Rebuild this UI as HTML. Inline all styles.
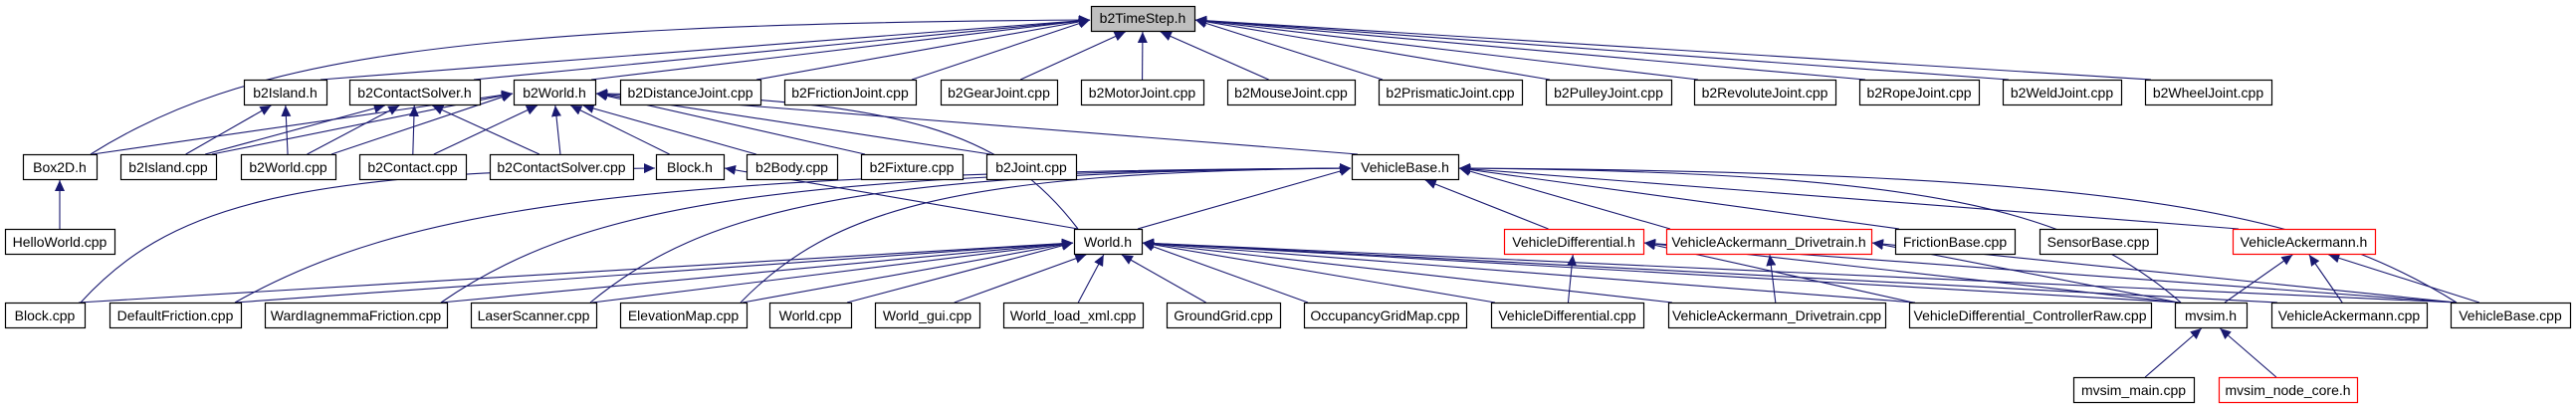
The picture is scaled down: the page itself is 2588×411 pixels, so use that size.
<!DOCTYPE html>
<html><head><meta charset="utf-8"><style>
html,body{margin:0;padding:0;background:#fff;}
svg{display:block;}
text{font-family:"Liberation Sans",sans-serif;font-size:14px;fill:#000;}
</style></head><body>
<svg id="g" xmlns="http://www.w3.org/2000/svg" width="2588" height="411" viewBox="0 0 2588 411">
<defs><marker id="a" markerUnits="userSpaceOnUse" markerWidth="12" markerHeight="10" refX="11" refY="5" orient="auto"><path d="M0,0 L11,5 L0,10 z" fill="#191970"/></marker></defs>
<g id="edges" fill="none" stroke="#191970" stroke-width="1.1"></g>
<g id="boxes"></g>
<g id="labels" text-anchor="middle">
<text x="1148" y="23">b2TimeStep.h</text>
<text x="286.5" y="98">b2Island.h</text>
<text x="416.5" y="98">b2ContactSolver.h</text>
<text x="557" y="98">b2World.h</text>
<text x="693.5" y="98">b2DistanceJoint.cpp</text>
<text x="854" y="98">b2FrictionJoint.cpp</text>
<text x="1003.5" y="98">b2GearJoint.cpp</text>
<text x="1147.5" y="98">b2MotorJoint.cpp</text>
<text x="1297" y="98">b2MouseJoint.cpp</text>
<text x="1457" y="98">b2PrismaticJoint.cpp</text>
<text x="1616" y="98">b2PulleyJoint.cpp</text>
<text x="1773" y="98">b2RevoluteJoint.cpp</text>
<text x="1928" y="98">b2RopeJoint.cpp</text>
<text x="2071.5" y="98">b2WeldJoint.cpp</text>
<text x="2218.5" y="98">b2WheelJoint.cpp</text>
<text x="60" y="173">Box2D.h</text>
<text x="169" y="173">b2Island.cpp</text>
<text x="289.5" y="173">b2World.cpp</text>
<text x="414.5" y="173">b2Contact.cpp</text>
<text x="564" y="173">b2ContactSolver.cpp</text>
<text x="693" y="173">Block.h</text>
<text x="795.5" y="173">b2Body.cpp</text>
<text x="916" y="173">b2Fixture.cpp</text>
<text x="1036" y="173">b2Joint.cpp</text>
<text x="1411.5" y="173">VehicleBase.h</text>
<text x="60" y="248">HelloWorld.cpp</text>
<text x="1113" y="248">World.h</text>
<text x="1581" y="248">VehicleDifferential.h</text>
<text x="1777" y="248">VehicleAckermann_Drivetrain.h</text>
<text x="1964" y="248">FrictionBase.cpp</text>
<text x="2108" y="248">SensorBase.cpp</text>
<text x="2314.5" y="248">VehicleAckermann.h</text>
<text x="45" y="322">Block.cpp</text>
<text x="176" y="322">DefaultFriction.cpp</text>
<text x="357.5" y="322">WardIagnemmaFriction.cpp</text>
<text x="536" y="322">LaserScanner.cpp</text>
<text x="686.5" y="322">ElevationMap.cpp</text>
<text x="814" y="322">World.cpp</text>
<text x="931.5" y="322">World_gui.cpp</text>
<text x="1078" y="322">World_load_xml.cpp</text>
<text x="1229" y="322">GroundGrid.cpp</text>
<text x="1391.5" y="322">OccupancyGridMap.cpp</text>
<text x="1574.5" y="322">VehicleDifferential.cpp</text>
<text x="1785" y="322">VehicleAckermann_Drivetrain.cpp</text>
<text x="2039.5" y="322">VehicleDifferential_ControllerRaw.cpp</text>
<text x="2221" y="322">mvsim.h</text>
<text x="2360" y="322">VehicleAckermann.cpp</text>
<text x="2522" y="322">VehicleBase.cpp</text>
<text x="2143.5" y="397">mvsim_main.cpp</text>
<text x="2298.5" y="397">mvsim_node_core.h</text>
</g>
</svg>
<script>
var RY=[0,6,80,155,230,304,379];
var N={
"TS":[1096,1200,1,"g"],"IH":[245,328,2],"CSH":[351,482,2],"WH":[516,598,2],
"DJ":[623,764,2],"FJ":[788,920,2],"GJ":[945,1062,2],"MJ":[1086,1209,2],"MOJ":[1233,1361,2],
"PJ":[1385,1529,2],"PUJ":[1553,1679,2],"RJ":[1702,1844,2],"ROJ":[1868,1988,2],"WJ":[2012,2131,2],"WHJ":[2155,2282,2],
"B2D":[23,97,3],"IC":[121,217,3],"WC":[242,337,3],"CC":[361,468,3],"CSC":[492,636,3],"BH":[659,727,3],
"BC":[750,841,3],"FC":[865,967,3],"JC":[991,1081,3],"VBH":[1358,1465,3],
"HW":[5,115,4],"WoH":[1079,1147,4],"VDH":[1511,1651,4,"r"],"VADH":[1674,1880,4,"r"],"FBC":[1904,2024,4],"SBC":[2049,2167,4],"VAH":[2243,2386,4,"r"],
"BlC":[5,85,5],"DF":[110,242,5],"WIF":[266,449,5],"LS":[473,599,5],"EM":[623,750,5],"WoC":[773,855,5],"WG":[879,984,5],"WLX":[1008,1148,5],
"GG":[1172,1286,5],"OGM":[1310,1473,5],"VDC":[1498,1651,5],"VADC":[1676,1894,5],"VDCR":[1918,2161,5],"MV":[2185,2257,5],"VAC":[2282,2438,5],"VBC":[2462,2582,5],
"MM":[2083,2204,6],"MNC":[2229,2368,6,"r"]};
var E=[
["B2D","TS"],["IH","TS"],["CSH","TS"],["WH","TS"],["DJ","TS"],["FJ","TS"],["GJ","TS"],["MJ","TS"],["MOJ","TS"],["PJ","TS"],["PUJ","TS"],["RJ","TS"],["ROJ","TS"],["WJ","TS"],["WHJ","TS"],
["IC","IH"],["WC","IH"],["IC","CSH"],["WC","CSH"],["CC","CSH"],["CSC","CSH"],
["B2D","WH"],["IC","WH"],["WC","WH"],["CC","WH"],["CSC","WH"],["BH","WH"],["BC","WH"],["FC","WH"],["JC","WH"],["WoH","WH"],["VBH","WH"],
["HW","B2D"],["BlC","BH"],["WoH","BH"],
["WoH","VBH"],["DF","VBH"],["WIF","VBH"],["LS","VBH"],["EM","VBH"],["VDH","VBH"],["VADH","VBH"],["FBC","VBH"],["VAH","VBH"],["VBC","VBH"],["MV","VBH"],
["BlC","WoH"],["DF","WoH"],["WIF","WoH"],["LS","WoH"],["EM","WoH"],["WoC","WoH"],["WG","WoH"],["WLX","WoH"],["GG","WoH"],["OGM","WoH"],["VDC","WoH"],["VADC","WoH"],["VDCR","WoH"],["MV","WoH"],["VAC","WoH"],["VBC","WoH"],
["VDC","VDH"],["MV","VDH"],["VBC","VDH"],["VDCR","VDH"],
["VADC","VADH"],["MV","VADH"],["VBC","VADH"],
["MV","VAH"],["VAC","VAH"],["VBC","VAH"],
["MM","MV"],["MNC","MV"]];
var ns="http://www.w3.org/2000/svg";
function cl(v,a,b){return Math.max(a,Math.min(b,v));}
var eg=document.getElementById("edges"),bg=document.getElementById("boxes");
E.forEach(function(e){
 var C=N[e[0]],P=N[e[1]];
 var ccx=(C[0]+C[1])/2,pcx=(P[0]+P[1])/2,cw=C[1]-C[0],pw=P[1]-P[0];
 var cy=RY[C[2]],py=RY[P[2]]+25;
 var dx=pcx-ccx,dy=cy-py;
 var sx=ccx+cl(dx*0.15,-cw/2+4,cw/2-4),sy=cy;
 var tx,ty;
 if(Math.abs(dx)>3.2*Math.max(dy,25)+pw){
   if(dx>0){tx=P[0]-1;}else{tx=P[1]+1;}
   ty=RY[P[2]]+14;
   if(dx>0&&C[1]>P[0]-20){}
   if(dx>0) sx=cl(ccx+cw/2-4,C[0],C[1]); else sx=cl(ccx-cw/2+4,C[0],C[1]);
   if(Math.abs(dx)>700&&C[2]-P[2]>=1){sx=ccx+(dx>0?cw/2-6:-cw/2+6);}
 } else {
   tx=pcx+cl(-dx*0.12,-pw/2+6,pw/2-6);ty=py+1;
 }
 var p=document.createElementNS(ns,"path"),d;
 var rows=C[2]-P[2];
 if(rows>1){
   var my=Math.min(sy,ty)-(sy-ty)*0.05;
   d="M"+sx+","+sy+" C"+(sx+(tx-sx)*0.15)+","+(sy-(sy-ty)*0.7)+" "+(sx+(tx-sx)*0.35)+","+(ty+4)+" "+tx+","+ty;
 } else {
   d="M"+sx+","+sy+" L"+tx+","+ty;
 }
 p.setAttribute("d",d);p.setAttribute("marker-end","url(#a)");eg.appendChild(p);
});
for(var k in N){var n=N[k];var r=document.createElementNS(ns,"rect");
 r.setAttribute("x",n[0]+0.5);r.setAttribute("y",RY[n[2]]+0.5);r.setAttribute("width",n[1]-n[0]);r.setAttribute("height",25);
 r.setAttribute("fill",n[3]=="g"?"#bfbfbf":"#fff");r.setAttribute("stroke",n[3]=="r"?"#ff0000":"#000");r.setAttribute("stroke-width","1.2");bg.appendChild(r);}
var ts=document.querySelectorAll("#labels text");
ts.forEach(function(t){var w=t.getComputedTextLength();});
</script>
</body></html>
